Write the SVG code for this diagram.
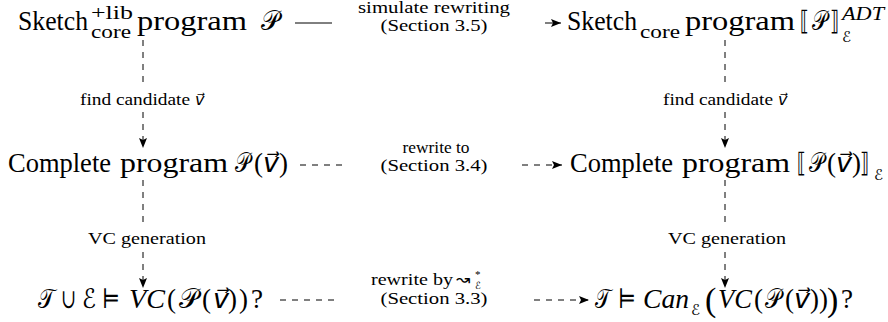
<svg xmlns="http://www.w3.org/2000/svg" width="888" height="322" viewBox="0 0 888 322">
<style>
text{font-family:"Liberation Serif","DejaVu Serif","DejaVu Sans",serif;fill:#000}
.m{font-size:27px}
.sc{font-size:18px}
.l{font-size:16px}
.i{font-style:italic}
.e{font-size:15px}
.big{font-size:34px}
.ln{stroke:#000;stroke-width:1;fill:none}
.d{stroke-dasharray:6 6}
</style>
<defs>
<marker id="ah" markerUnits="userSpaceOnUse" markerWidth="11" markerHeight="8" refX="10" refY="4" orient="auto">
<path d="M0,0 L10,4 L0,8 L2,4 z" fill="#000"/>
</marker>
</defs>
<g id="connectors">
<line class="ln" x1="295" y1="23" x2="332" y2="23"/>
<line class="ln" x1="545" y1="23" x2="561" y2="23" marker-end="url(#ah)"/>
<line class="ln d" x1="300" y1="165" x2="345" y2="165"/>
<line class="ln d" x1="522" y1="165" x2="562" y2="165" marker-end="url(#ah)"/>
<line class="ln d" x1="280" y1="300" x2="338" y2="300"/>
<line class="ln d" x1="534" y1="300" x2="589" y2="300" marker-end="url(#ah)"/>
<line class="ln d" x1="143" y1="40" x2="143" y2="88"/>
<line class="ln d" x1="143" y1="112" x2="143" y2="148" marker-end="url(#ah)"/>
<line class="ln d" x1="725" y1="40" x2="725" y2="88"/>
<line class="ln d" x1="725" y1="112" x2="725" y2="148" marker-end="url(#ah)"/>
<line class="ln d" x1="143" y1="180" x2="143" y2="228"/>
<line class="ln d" x1="143" y1="252" x2="143" y2="288" marker-end="url(#ah)"/>
<line class="ln d" x1="725" y1="180" x2="725" y2="228"/>
<line class="ln d" x1="725" y1="252" x2="725" y2="288" marker-end="url(#ah)"/>
</g>
<g id="labels">
<text class="l" x="434" y="13" text-anchor="middle" textLength="152" lengthAdjust="spacingAndGlyphs">simulate rewriting</text>
<text class="l" x="434" y="31" text-anchor="middle" textLength="107" lengthAdjust="spacingAndGlyphs">(Section 3.5)</text>
<text class="l" x="436" y="153" text-anchor="middle" textLength="67" lengthAdjust="spacingAndGlyphs">rewrite to</text>
<text class="l" x="434" y="171" text-anchor="middle" textLength="107" lengthAdjust="spacingAndGlyphs">(Section 3.4)</text>
<text class="l" x="371" y="285" textLength="82" lengthAdjust="spacingAndGlyphs">rewrite by</text>
<text style="font-family:'DejaVu Sans',sans-serif;font-size:17px" x="456" y="285">↝</text>
<text style="font-size:11px" x="475" y="278">*</text>
<text style="font-size:10px" x="475" y="289">ℰ</text>
<text class="l" x="434" y="304" text-anchor="middle" textLength="107" lengthAdjust="spacingAndGlyphs">(Section 3.3)</text>
<text class="l" x="80" y="105" textLength="110" lengthAdjust="spacingAndGlyphs">find candidate</text>
<text class="l i" x="195" y="105">v⃗</text>
<text class="l" x="663" y="105" textLength="110" lengthAdjust="spacingAndGlyphs">find candidate</text>
<text class="l i" x="778" y="105">v⃗</text>
<text class="l" x="147" y="244" text-anchor="middle" textLength="118" lengthAdjust="spacingAndGlyphs">VC generation</text>
<text class="l" x="727" y="244" text-anchor="middle" textLength="118" lengthAdjust="spacingAndGlyphs">VC generation</text>
</g>
<g id="n1">
<text class="m" x="18" y="30" textLength="70" lengthAdjust="spacingAndGlyphs">Sketch</text>
<text class="sc" x="91" y="19" textLength="42" lengthAdjust="spacingAndGlyphs">+lib</text>
<text class="sc" x="91" y="38" textLength="40" lengthAdjust="spacingAndGlyphs">core</text>
<text class="m" x="137" y="30" textLength="110" lengthAdjust="spacingAndGlyphs">program</text>
<text class="m" x="261" y="30" textLength="18" lengthAdjust="spacingAndGlyphs">𝒫</text>
</g>
<g id="n2">
<text class="m" x="567" y="30" textLength="70" lengthAdjust="spacingAndGlyphs">Sketch</text>
<text class="sc" x="640" y="38" textLength="40" lengthAdjust="spacingAndGlyphs">core</text>
<text class="m" x="685" y="30" textLength="110" lengthAdjust="spacingAndGlyphs">program</text>
<text class="m" x="800" y="30" textLength="9" lengthAdjust="spacingAndGlyphs">⟦</text>
<text class="m" x="812" y="30" textLength="15" lengthAdjust="spacingAndGlyphs">𝒫</text>
<text class="m" x="830" y="30" textLength="9" lengthAdjust="spacingAndGlyphs">⟧</text>
<text class="sc i" x="842" y="20" textLength="42" lengthAdjust="spacingAndGlyphs">ADT</text>
<text class="e" x="842" y="42">ℰ</text>
</g>
<g id="n3">
<text class="m" x="8" y="172" textLength="103" lengthAdjust="spacingAndGlyphs">Complete</text>
<text class="m" x="120" y="172" textLength="108" lengthAdjust="spacingAndGlyphs">program</text>
<text class="m" x="235" y="172" textLength="15" lengthAdjust="spacingAndGlyphs">𝒫</text>
<text class="m" x="254" y="172">(<tspan class="i">v⃗</tspan>)</text>
</g>
<g id="n4">
<text class="m" x="570" y="172" textLength="103" lengthAdjust="spacingAndGlyphs">Complete</text>
<text class="m" x="682" y="172" textLength="108" lengthAdjust="spacingAndGlyphs">program</text>
<text class="m" x="797" y="172" textLength="9" lengthAdjust="spacingAndGlyphs">⟦</text>
<text class="m" x="809" y="172" textLength="15" lengthAdjust="spacingAndGlyphs">𝒫</text>
<text class="m" x="827" y="172">(<tspan class="i">v⃗</tspan>)</text>
<text class="m" x="860" y="172" textLength="9" lengthAdjust="spacingAndGlyphs">⟧</text>
<text class="e" x="874" y="180">ℰ</text>
</g>
<g id="n5">
<text class="m" x="38" y="308" textLength="17" lengthAdjust="spacingAndGlyphs">𝒯</text>
<text class="m" x="61" y="308" textLength="15" lengthAdjust="spacingAndGlyphs">∪</text>
<text class="m" x="82" y="308" textLength="14" lengthAdjust="spacingAndGlyphs">ℰ</text>
<text class="m" x="102" y="308" textLength="18" lengthAdjust="spacingAndGlyphs">⊨</text>
<text class="m i" x="129" y="308" textLength="36" lengthAdjust="spacingAndGlyphs">VC</text>
<text class="m" x="167" y="308">(</text>
<text class="m" x="179" y="308" textLength="19" lengthAdjust="spacingAndGlyphs">𝒫</text>
<text class="m" x="202" y="308">(</text>
<text class="m i" x="213" y="308">v⃗</text>
<text class="m" x="228" y="308">)</text>
<text class="m" x="239" y="308">)</text>
<text class="m" x="251" y="308">?</text>
</g>
<g id="n6">
<text class="m" x="595" y="308" textLength="16" lengthAdjust="spacingAndGlyphs">𝒯</text>
<text class="m" x="618" y="308" textLength="18" lengthAdjust="spacingAndGlyphs">⊨</text>
<text class="m i" x="643" y="308" textLength="46" lengthAdjust="spacingAndGlyphs">Can</text>
<text class="e" x="691" y="315">ℰ</text>
<text class="big" x="705" y="311">(</text>
<text class="m i" x="718" y="308" textLength="34" lengthAdjust="spacingAndGlyphs">VC</text>
<text class="m" x="754" y="308">(</text>
<text class="m" x="765" y="308" textLength="16" lengthAdjust="spacingAndGlyphs">𝒫</text>
<text class="m" x="785" y="308">(<tspan class="i">v⃗</tspan>))</text>
<text class="big" x="827" y="311">)</text>
<text class="m" x="841" y="308">?</text>
</g>
</svg>
